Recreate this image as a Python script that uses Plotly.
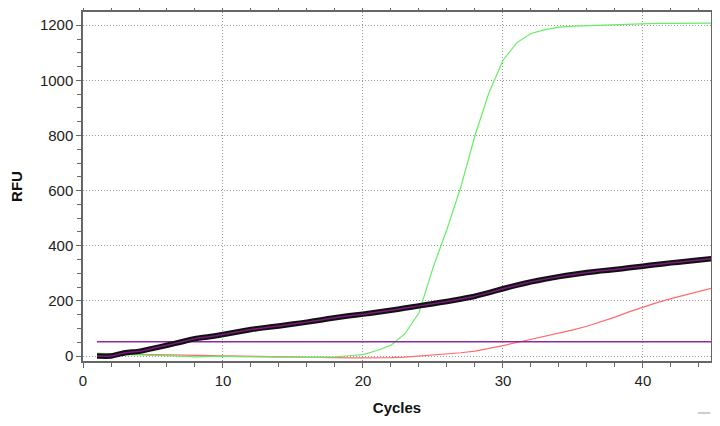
import plotly.graph_objects as go

cycles = list(range(1, 46))

# Sample curve (thick black with purple core)
sample_rfu = [0, 0, 12, 17, 28, 39, 51, 63, 70, 78,
              87, 96, 103, 109, 116, 123, 131, 139, 146, 152,
              159, 166, 174, 182, 190, 198, 207, 217, 230, 244,
              257, 269, 279, 288, 296, 303, 309, 314, 320, 326,
              332, 338, 343, 348, 354]

# Green curve (high amplification)
green_rfu = [11, 7, 5, 4, 3, 2, 0, -3, -1, 0,
             -2, -3, -4, -5, -5, -5, -4, -3, 1, 5,
             20, 39, 81, 157, 320, 460, 615, 800, 955, 1073,
             1137, 1170, 1184, 1193, 1197, 1199, 1201, 1203, 1205, 1206,
             1207, 1207, 1208, 1208, 1208]

# Red curve (late amplification)
red_rfu = [9, 8, 7, 6, 5, 4, 3, 2, 1, 0,
           -1, -2, -3, -4, -4, -5, -6, -7, -7, -7,
           -7, -6, -4, 0, 3, 7, 12, 18, 27, 38,
           49, 60, 71, 83, 95, 108, 124, 141, 160, 178,
           194, 208, 221, 234, 247]

threshold_value = 52
threshold_x = [1, 45]

x_ticks = [0, 10, 20, 30, 40]
y_ticks = [0, 200, 400, 600, 800, 1000, 1200]

fig = go.Figure()

fig.add_trace(go.Scatter(x=cycles, y=red_rfu, mode="lines",
                         line=dict(color="#ff6b6b", width=1.2), showlegend=False))
fig.add_trace(go.Scatter(x=cycles, y=green_rfu, mode="lines",
                         line=dict(color="#66ee66", width=1.2), showlegend=False))
fig.add_trace(go.Scatter(x=threshold_x, y=[threshold_value] * 2, mode="lines",
                         line=dict(color="#8e2a9c", width=1.6), showlegend=False))
fig.add_trace(go.Scatter(x=cycles, y=sample_rfu, mode="lines",
                         line=dict(color="#111111", width=5.5, shape="spline", smoothing=0.5),
                         showlegend=False))
fig.add_trace(go.Scatter(x=cycles, y=sample_rfu, mode="lines",
                         line=dict(color="#7a1a80", width=1.5, shape="spline", smoothing=0.5),
                         showlegend=False))

axis_common = dict(
    showline=True, linecolor="#666666", linewidth=1.5, mirror="ticks",
    ticks="outside", ticklen=5, tickcolor="#666666", tickwidth=1.3,
    showgrid=True, gridcolor="#999999", griddash="1px,2px", gridwidth=1,
    zeroline=False, automargin=False,
    tickfont=dict(family="Liberation Sans, Arial", size=15, color="#222222"),
)

fig.update_xaxes(
    range=[0, 44.86], tickvals=x_ticks,
    minor=dict(dtick=2, tick0=0, ticks="outside", ticklen=4, tickcolor="#666666", showgrid=False),
    title=dict(text="<b>Cycles</b>", standoff=15,
               font=dict(family="Liberation Sans, Arial", size=15, color="#111111")),
    **axis_common,
)
fig.update_yaxes(
    range=[-18, 1248], tickvals=y_ticks,
    minor=dict(dtick=50, tick0=0, ticks="outside", ticklen=4, tickcolor="#666666", showgrid=False),
    title=dict(text="<b>RFU</b>", standoff=17,
               font=dict(family="Liberation Sans, Arial", size=15, color="#111111")),
    **axis_common,
)

fig.add_shape(type="line", xref="paper", yref="paper",
              x0=0.979, x1=0.999, y0=-0.149, y1=-0.149,
              line=dict(color="#bbbbbb", width=1.5))

# page body adds an 8px margin, so the figure is sized to fill the window exactly
fig.update_layout(
    width=712, height=418,
    margin=dict(l=75, r=9, t=4, b=65, autoexpand=False),
    paper_bgcolor="white", plot_bgcolor="white",
)

fig.write_html("out.html")
